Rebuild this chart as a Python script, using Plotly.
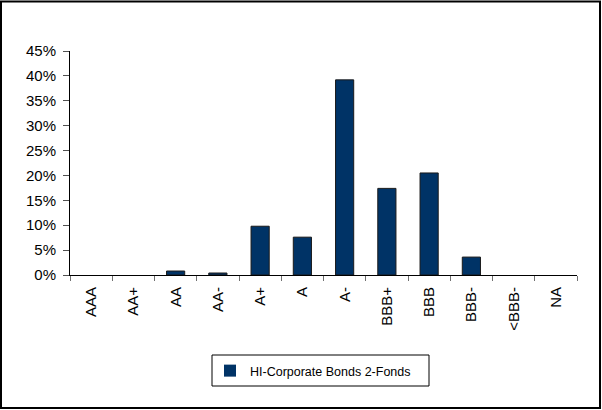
import plotly.graph_objects as go

categories = ["AAA", "AA+", "AA", "AA-", "A+", "A", "A-", "BBB+", "BBB", "BBB-", "<BBB-", "NA"]
values = [0.0, 0.0, 0.008, 0.004, 0.098, 0.076, 0.392, 0.174, 0.205, 0.036, 0.0, 0.0]
series_name = "HI-Corporate Bonds 2-Fonds"
y_ticks = [0, 0.05, 0.10, 0.15, 0.20, 0.25, 0.30, 0.35, 0.40, 0.45]

W, H = 602, 410
L, R, T, B = 70, 25, 51, 135
pw, ph = W - L - R, H - T - B

def px_x(p):
    return (p - L) / pw

def px_y(p):
    return (H - B - p) / ph

line_widths = [1 if v > 0 else 0 for v in values]

fig = go.Figure()
fig.add_trace(go.Bar(
    x=categories, y=values, name=series_name,
    marker=dict(color="#003366", line=dict(color="#1a1a1a", width=line_widths)),
    showlegend=True,
))

fig.update_layout(
    width=W, height=H,
    margin=dict(l=L, r=R, t=T, b=B, pad=0),
    paper_bgcolor="white", plot_bgcolor="white",
    font=dict(family="Liberation Sans, Arial, sans-serif", size=15, color="black"),
    bargap=0.57,
    showlegend=True,
    legend=dict(
        x=px_x(210), y=px_y(371), xanchor="left", yanchor="middle",
        orientation="h", bgcolor="rgba(0,0,0,0)", borderwidth=0,
        font=dict(size=12.5, family="Liberation Sans, Arial, sans-serif"),
        itemwidth=30,
    ),
    xaxis=dict(
        type="category", tickangle=-90, showline=True, linecolor="black", linewidth=1,
        ticks="outside", ticklen=5, tickcolor="#707070", tickson="boundaries",
        showgrid=False, tickfont=dict(size=15), mirror=False, ticklabelstandoff=5,
    ),
    yaxis=dict(
        range=[0, 0.45], tickvals=y_ticks, tickformat=".0%",
        showline=True, linecolor="black", linewidth=1,
        ticks="outside", ticklen=6, tickcolor="#505050",
        showgrid=False, zeroline=False, tickfont=dict(size=15), ticklabelstandoff=4,
    ),
    shapes=[
        dict(type="rect", xref="paper", yref="paper",
             x0=px_x(1), x1=px_x(600), y0=px_y(408), y1=px_y(1.5),
             line=dict(color="black", width=2), fillcolor="rgba(0,0,0,0)", layer="below"),
        dict(type="rect", xref="paper", yref="paper",
             x0=px_x(212), x1=px_x(429), y0=px_y(386), y1=px_y(355),
             line=dict(color="black", width=1), fillcolor="rgba(0,0,0,0)"),
    ],
)

fig.write_html(
    "out.html",
    config={"displayModeBar": False},
    post_script="document.body.style.margin='0';document.body.style.overflow='hidden';",
)
